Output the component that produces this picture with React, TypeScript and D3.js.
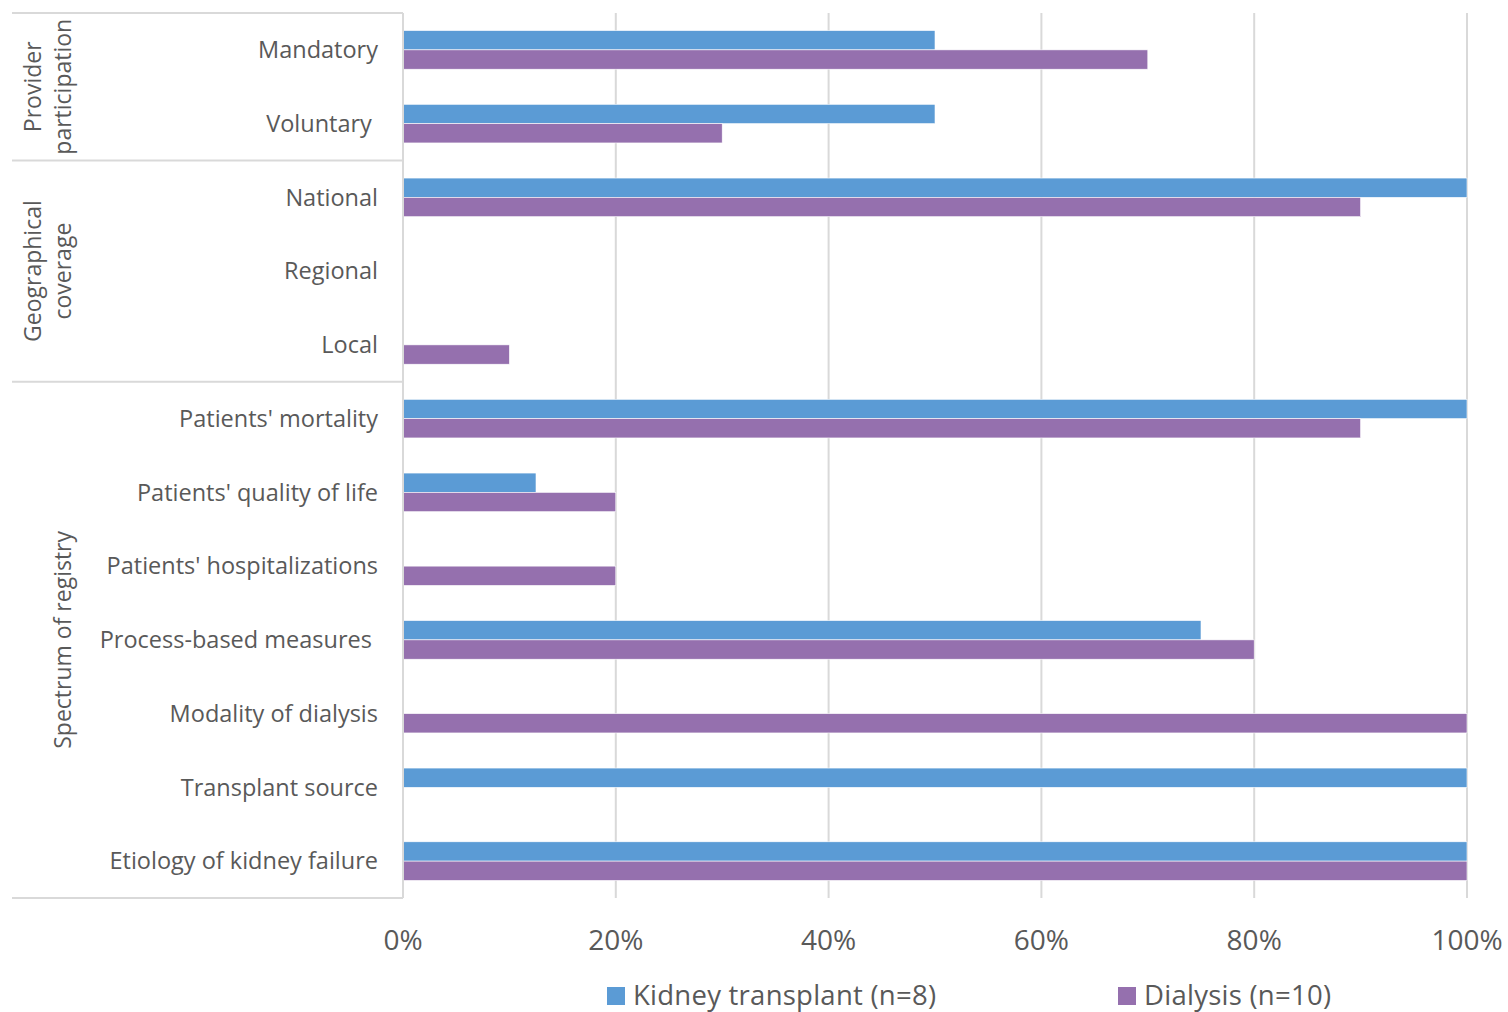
import * as d3 from "d3";

// categories, top to bottom
const categories = [
  "Mandatory",
  "Voluntary ",
  "National",
  "Regional",
  "Local",
  "Patients' mortality",
  "Patients' quality of life",
  "Patients' hospitalizations",
  "Process-based measures ",
  "Modality of dialysis",
  "Transplant source",
  "Etiology of kidney failure",
];

// groups (label lines, number of categories in group)
const groupLabels = [["Provider", "participation"], ["Geographical", "coverage"], ["", "Spectrum of registry"]];
const groupSizes = [2, 3, 7];

const seriesNames = ["Kidney transplant (n=8)", "Dialysis (n=10)"];
const transplant = [0.5, 0.5, 1, 0, 0, 1, 0.125, 0, 0.75, 0, 1, 1];
const dialysis = [0.7, 0.3, 0.9, 0, 0.1, 0.9, 0.2, 0.2, 0.8, 1, 0, 1];
const ticks = [0, 0.2, 0.4, 0.6, 0.8, 1];

const colors = ["#5B9BD5", "#9570AE"];
const FONT = "'Open Sans', 'Noto Sans', sans-serif";
const TEXT = "#595959";
const GRID = "#d9d9d9";

export default function App() {
  const W = 1508;
  const H = 1012;
  const left = 403;
  const right = 1467;
  const top = 13;
  const bottom = 898;

  const x = d3.scaleLinear().domain([0, 1]).range([left, right]);
  const y = d3.scaleBand<string>().domain(categories).range([top, bottom]);
  const series = [transplant, dialysis];
  const inner = d3
    .scaleBand<number>()
    .domain([0, 1])
    .range([-y.bandwidth() * 0.262, y.bandwidth() * 0.262]);

  // group boundaries
  const bounds: number[] = [];
  let acc = 0;
  bounds.push(acc);
  groupSizes.forEach((s) => {
    acc += s;
    bounds.push(acc);
  });
  const edgeY = (i: number) => top + i * y.step();

  return (
    <svg
      width={W}
      height={H}
      viewBox={`0 0 ${W} ${H}`}
      style={{ position: "absolute", left: 0, top: 0, background: "#fff" }}
    >
      {/* gridlines */}
      {ticks.slice(1).map((t) => (
        <line key={t} x1={x(t)} x2={x(t)} y1={top} y2={bottom} stroke={GRID} strokeWidth={2} />
      ))}

      {/* bars */}
      {series.map((vals, si) =>
        vals.map((v, ci) =>
          v > 0 ? (
            <rect
              key={`${si}-${ci}`}
              x={x(0)}
              y={y(categories[ci])! + y.bandwidth() / 2 + inner(si)!}
              width={x(v) - x(0)}
              height={inner.bandwidth()}
              fill={colors[si]}
              stroke="#fff"
              strokeWidth={0.6}
            />
          ) : null
        )
      )}

      {/* axis + group separators */}
      <line x1={left} x2={left} y1={top} y2={bottom} stroke={GRID} strokeWidth={2} />
      {bounds.map((b) => (
        <line key={b} x1={12} x2={left} y1={edgeY(b)} y2={edgeY(b)} stroke={GRID} strokeWidth={2} />
      ))}

      {/* category labels */}
      {categories.map((c) => (
        <text
          key={c}
          x={378}
          y={y(c)! + y.bandwidth() / 2}
          dy="0.35em"
          textAnchor="end"
          fontFamily={FONT}
          fontSize={23.5}
          fill={TEXT}
          style={{ whiteSpace: "pre" }}
        >
          {c}
        </text>
      ))}

      {/* group labels */}
      {groupLabels.map((lines, gi) => {
        const cy = (edgeY(bounds[gi]) + edgeY(bounds[gi + 1])) / 2;
        return lines.map((ln, li) =>
          ln ? (
            <text
              key={`${gi}-${li}`}
              transform={`translate(${33 + li * 30},${cy}) rotate(-90)`}
              dy="0.35em"
              textAnchor="middle"
              fontFamily={FONT}
              fontSize={23}
              fill={TEXT}
            >
              {ln}
            </text>
          ) : null
        );
      })}

      {/* x tick labels */}
      {ticks.map((t) => (
        <text
          key={t}
          x={x(t)}
          y={950}
          textAnchor="middle"
          fontFamily={FONT}
          fontSize={28}
          fill={TEXT}
        >
          {d3.format(".0%")(t)}
        </text>
      ))}

      {/* legend */}
      {seriesNames.map((n, i) => {
        const lx = [607, 1118][i];
        return (
          <g key={n} transform={`translate(${lx},987)`}>
            <rect width={18} height={18} fill={colors[i]} />
            <text x={26} y={18} fontFamily={FONT} fontSize={27.5} fill={TEXT} textLength={i === 0 ? 303 : 187}>
              {n}
            </text>
          </g>
        );
      })}
    </svg>
  );
}
